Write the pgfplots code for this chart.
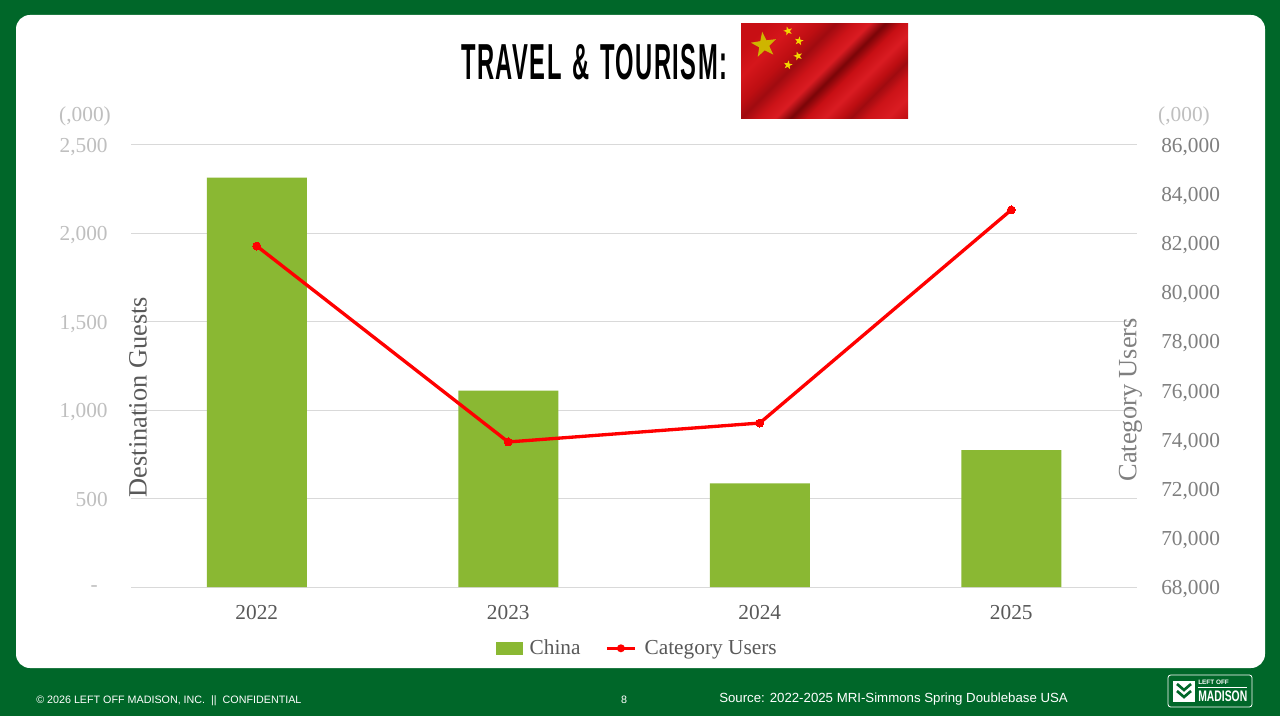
\documentclass[border=0pt]{standalone}
\usepackage{fontspec}
\usepackage{pgfplots}
\pgfplotsset{compat=1.18}
\usetikzlibrary{shapes.geometric}
\setmainfont{Liberation Serif}
\newfontfamily\sansf{Liberation Sans}
\newfontfamily\titlef[LetterSpace=6]{Liberation Sans}
\definecolor{bggreen}{HTML}{006729}
\definecolor{bargreen}{HTML}{8AB833}
\definecolor{gridc}{HTML}{D9D9D9}
\definecolor{lighttick}{HTML}{BFBFBF}
\definecolor{midtick}{HTML}{7F7F7F}
\definecolor{darktext}{HTML}{595959}
\definecolor{fa}{HTML}{C80F14}
\definecolor{fb}{HTML}{D5161B}
\definecolor{fc}{HTML}{BE0E12}
\definecolor{fd}{HTML}{A00B10}
\definecolor{fe}{HTML}{CC1318}
\definecolor{ff}{HTML}{DA1C22}
\definecolor{fg}{HTML}{7A0508}
\definecolor{stary}{HTML}{F2D500}
\pgfdeclareverticalshading{flagwave}{100bp}{
  color(0bp)=(fc); color(14.6bp)=(fc); color(20.3bp)=(ff); color(26bp)=(fe);
  color(30.2bp)=(fd); color(33bp)=(fc); color(37.3bp)=(ff); color(42.2bp)=(fa);
  color(46.5bp)=(fg); color(50.7bp)=(ff); color(55bp)=(fe); color(59.9bp)=(fd);
  color(64.1bp)=(fc); color(71.2bp)=(fb); color(78.3bp)=(fa); color(85.4bp)=(fa);
  color(100bp)=(fa)}
\pgfplotstableread{
x china
0 2313
1 1110
2 585
3 774
}\chinadata
\pgfplotstableread{
x users
0 81870
1 73900
2 74670
3 83340
}\usersdata
\begin{document}
\begin{tikzpicture}[x=0.75pt,y=-0.75pt]
\useasboundingbox (0,0) rectangle (1280,716);
\fill[bggreen] (0,0) rectangle (1280,716);
\fill[white,rounded corners=10.5pt] (16,15) rectangle (1265,668);
% flag
\shade[shading=flagwave,shading angle=45] (741,23.5) rectangle (908,119);
\node[star,star points=5,star point ratio=2.5,fill=stary!85!black,inner sep=0pt,minimum size=20pt,rotate=8] at (764,45) {};
\node[star,star points=5,star point ratio=2.5,fill=stary,inner sep=0pt,minimum size=7pt,rotate=15] at (788,31) {};
\node[star,star points=5,star point ratio=2.5,fill=stary,inner sep=0pt,minimum size=7pt,rotate=-10] at (799,41) {};
\node[star,star points=5,star point ratio=2.5,fill=stary,inner sep=0pt,minimum size=7pt,rotate=15] at (798,56) {};
\node[star,star points=5,star point ratio=2.5,fill=stary,inner sep=0pt,minimum size=7pt,rotate=-10] at (788,65) {};
% title
\node[anchor=west,inner sep=0pt,black] at (461,62) {\resizebox{199.5pt}{26.5pt}{\titlef\bfseries TRAVEL\hspace{0.12em} \&\hspace{0.12em} TOURISM:}};
% bars
\begin{axis}[
  at={(98.25pt,-440.25pt)},anchor=south west,
  scale only axis,width=754.5pt,height=331.875pt,
  xmin=-0.5,xmax=3.5,ymin=0,ymax=2500,
  axis x line*=bottom,axis y line*=left,
  x axis line style={draw=gridc,-},
  y axis line style={draw=none,-},
  xtick={0,1,2,3},xticklabels={2022,2023,2024,2025},
  ytick={0,500,1000,1500,2000,2500},
  yticklabels={\raisebox{-1.5pt}{-}\hspace{7.5pt}\vphantom{,},500\vphantom{,},{1,000},{1,500},{2,000},{2,500}},
  major tick length=0pt,
  ymajorgrids,grid style={gridc,line width=0.75pt},
  tick label style={font=\fontsize{16pt}{16pt}\selectfont},
  yticklabel style={color=lighttick,inner sep=0pt,xshift=-17.3pt,yshift=-1.7pt},
  xticklabel style={color=darktext,inner sep=0pt,yshift=-13.5pt},
  ylabel={Destination Guests},
  every axis y label/.style={at={(axis description cs:0.007,0.429)},rotate=90,anchor=center,font=\fontsize{19.8pt}{20pt}\selectfont,color=darktext},
  clip=false,
]
\addplot[ybar,bar width=75pt,fill=bargreen,draw=none] table[x=x,y=china]{\chinadata};
\end{axis}
% line
\begin{axis}[
  at={(98.25pt,-440.25pt)},anchor=south west,
  scale only axis,width=754.5pt,height=331.875pt,
  xmin=-0.5,xmax=3.5,ymin=68000,ymax=86000,
  axis y line*=right,axis x line=none,
  y axis line style={draw=none,-},
  ytick={68000,70000,72000,74000,76000,78000,80000,82000,84000,86000},
  major tick length=0pt,
  scaled y ticks=false,
  /pgf/number format/1000 sep={,},
  /pgf/number format/assume math mode=true,
  tick label style={font=\fontsize{16pt}{16pt}\selectfont},
  yticklabel style={color=midtick,inner sep=0pt,xshift=18pt,yshift=-1.7pt},
  ylabel={Category Users},
  every axis y label/.style={at={(axis description cs:0.9935,0.423)},rotate=90,anchor=center,font=\fontsize{19.8pt}{20pt}\selectfont,color=midtick},
  legend columns=2,
  legend style={at={(axis description cs:0.5035,-0.1385)},anchor=center,draw=none,fill=none,
    font=\fontsize{16pt}{16pt}\selectfont\color{darktext},
    /tikz/every even column/.append style={column sep=16.5pt},inner sep=0pt},
  clip=false,
]
\addlegendimage{legend image code/.code={
  \fill[bargreen] (0pt,-4.5pt) rectangle (19.5pt,4.5pt);
  \path[draw=none] (0pt,0pt) -- (23.25pt,0pt);}}
\addlegendentry{China}
\addplot[color=red,line width=2.5pt,mark=*,mark size=3pt,mark options={fill=red,draw=red,line width=0pt},
  legend image code/.code={
    \draw[red,line width=2.5pt] (0pt,0pt) -- (21pt,0pt);
    \fill[red,draw=none] (10.5pt,0pt) circle (3pt);
    \path[draw=none] (0pt,0pt) -- (26.25pt,0pt);}] table[x=x,y=users]{\usersdata};
\addlegendentry{Category Users}
\end{axis}
% unit notes
\node[anchor=center,inner sep=0pt,lighttick,font=\fontsize{16pt}{16pt}\selectfont] at (85,116.5) {(,000)};
\node[anchor=center,inner sep=0pt,lighttick,font=\fontsize{16pt}{16pt}\selectfont] at (1184,116.5) {(,000)};
% footer
\node[anchor=west,inner sep=0pt,white,font=\sansf\fontsize{8.05pt}{9pt}\selectfont] at (36,700.5) {© 2026 LEFT OFF MADISON, INC.\ \ ||\ \ CONFIDENTIAL};
\node[anchor=center,inner sep=0pt,white,font=\sansf\fontsize{8.05pt}{9pt}\selectfont] at (624,700) {8};
\node[anchor=west,inner sep=0pt,white,font=\sansf\fontsize{9.93pt}{11pt}\selectfont] at (719,699.5) {Source: 2022-2025 MRI-Simmons Spring Doublebase USA};
% logo
\draw[white,line width=0.6pt,rounded corners=2pt] (1168,675) rectangle (1252,707);
\fill[white] (1173,681) rectangle (1195,702);
\foreach \yy in {684,691}{
  \draw[bggreen,line width=2pt] (1177,\yy) -- (1184,\yy+6) -- (1191,\yy);
}
\node[anchor=west,inner sep=0pt,white,font=\sansf\bfseries\fontsize{4.8pt}{5pt}\selectfont] at (1198,682.5) {LEFT OFF};
\draw[white,line width=0.4pt] (1198,687) -- (1247,687);
\node[anchor=west,inner sep=0pt,white] at (1198,696.5) {\resizebox{36.75pt}{8pt}{\sansf\bfseries MADISON}};
\end{tikzpicture}
\end{document}
